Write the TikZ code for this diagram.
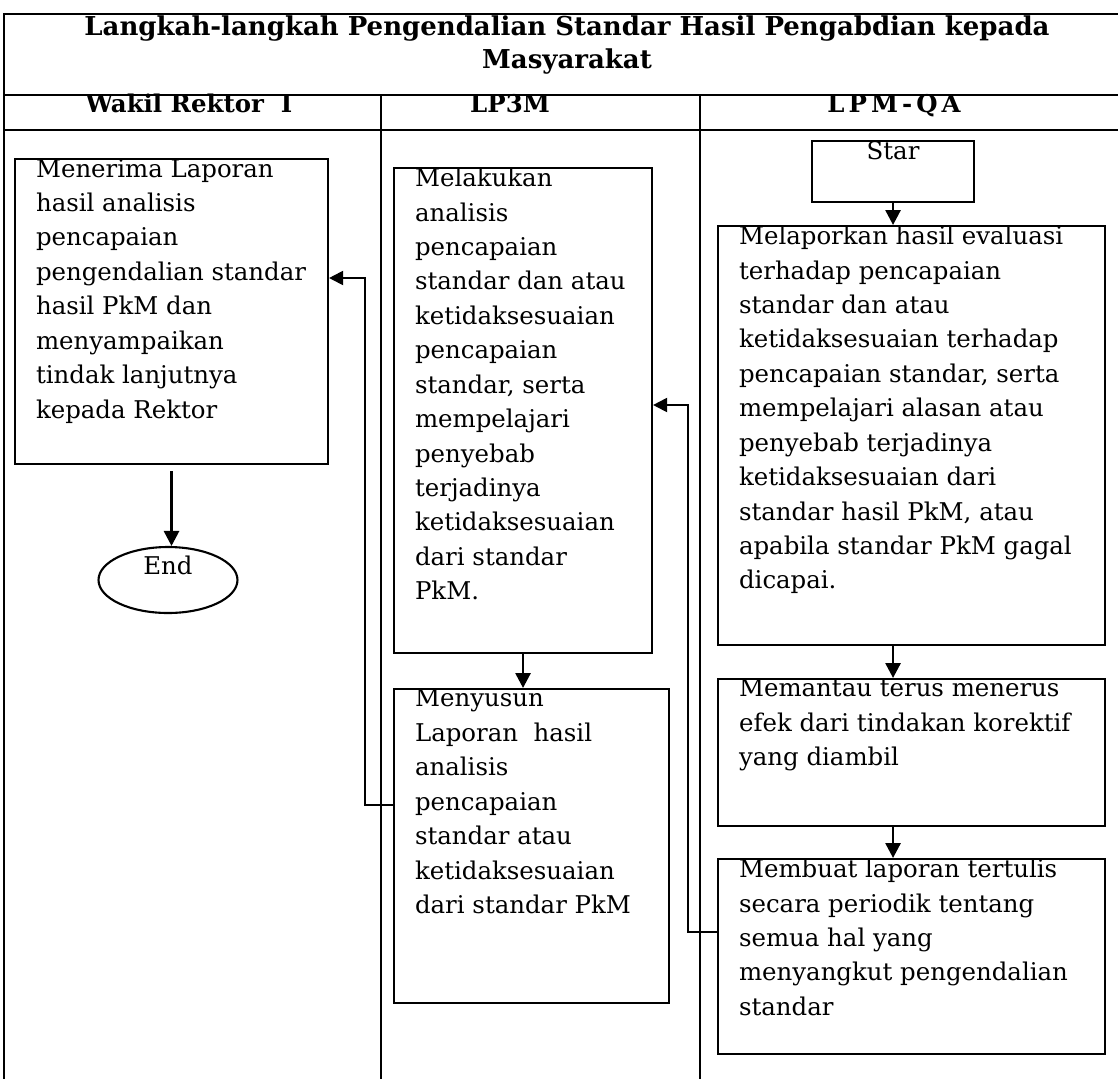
\documentclass[tikz,border=0pt]{standalone}
\usepackage{fontspec}
\setmainfont{DejaVu Serif}
\usetikzlibrary{arrows.meta,shapes.geometric,positioning}

\newcommand{\isikotak}[3]{\parbox[t][#2][t]{#1}{\raggedright #3}}

\begin{document}
\begin{tikzpicture}[x=0.02cm,y=-0.02cm,
  garis/.style={line width=0.9pt},
  kotak/.style={draw, line width=1.2pt, anchor=north west, inner xsep=0.42cm, inner ysep=0pt,
    font=\fontsize{13.9}{19.6}\selectfont},
  panah/.style={-{Triangle[length=0.3cm,width=0.3cm]}, line width=1.6pt},
  balik/.style={-{Triangle[length=0.28cm,width=0.28cm]}, line width=1.1pt},
  kepala/.style={font=\fontsize{14.8}{19.3}\selectfont\bfseries}]
\useasboundingbox (0,0) rectangle (1118,1079);
% frame of the table
\draw[garis] (1118,14) -- (4,14) -- (4,1079);
\draw[garis] (4,95) -- (1118,95);
\draw[garis] (4,130) -- (1118,130);
\draw[garis] (381,95) -- (381,1079);
\draw[garis] (700,95) -- (700,1079);
% title and column heads
\node[kepala, align=center] (judul) at (567,45) {Langkah-langkah Pengendalian Standar Hasil Pengabdian kepada\\Masyarakat};
\node[kepala, anchor=base, font=\fontsize{13.9}{19.3}\selectfont\bfseries] (wr) at (189,112) {Wakil Rektor~ I};
\node[kepala, anchor=base, font=\fontsize{13.9}{19.3}\selectfont\bfseries] (lp) at (510,112) {LP3M};
\node[kepala, anchor=base, font=\fontsize{13.9}{19.3}\selectfont\bfseries] (qa) at (894,112) {L\,P\,M\,-\,Q\,A};
% Wakil Rektor I
\node[kotak] (terima) at (14,158) {\isikotak{5.42cm}{6.1cm}{Menerima Laporan\\hasil analisis\\pencapaian\\pengendalian standar\\hasil PkM dan\\menyampaikan\\tindak lanjutnya\\kepada Rektor}};
\node[ellipse, draw, line width=1.2pt, minimum width=2.78cm, minimum height=1.32cm,
  label={[font=\fontsize{13.9}{19.6}\selectfont, yshift=0.3cm]center:End}] (selesai) at (168,580) {};
% LP3M
\node[kotak] (analisis) at (393,167) {\isikotak{4.32cm}{9.7cm}{Melakukan\\analisis\\pencapaian\\standar dan atau\\ketidaksesuaian\\pencapaian\\standar, serta\\mempelajari\\penyebab\\terjadinya\\ketidaksesuaian\\dari standar\\PkM.}};
\node[kotak] (susun) at (393,688) {\isikotak{4.66cm}{6.28cm}{Menyusun\\Laporan~ hasil\\analisis\\pencapaian\\standar atau\\ketidaksesuaian\\dari standar PkM}};
% LPM-QA
\node[kotak, inner xsep=0pt] (star) at (811,140) {\isikotak{3.24cm}{1.22cm}{\centering Star}};
\node[kotak] (lapor) at (717,225) {\isikotak{6.9cm}{8.38cm}{Melaporkan hasil evaluasi\\terhadap pencapaian\\standar dan atau\\ketidaksesuaian terhadap\\pencapaian standar, serta\\mempelajari alasan atau\\penyebab terjadinya\\ketidaksesuaian dari\\standar hasil PkM, atau\\apabila standar PkM gagal\\dicapai.}};
\node[kotak] (pantau) at (717,678) {\isikotak{6.9cm}{2.94cm}{Memantau terus menerus\\efek dari tindakan korektif\\yang diambil}};
\node[kotak] (buat) at (717,858) {\isikotak{6.9cm}{3.9cm}{Membuat laporan tertulis\\secara periodik tentang\\semua hal yang\\menyangkut pengendalian\\standar}};
% arrows
\draw[panah, shorten <=0.12cm] (terima.south) -- (terima.south |- selesai.north);
\draw[panah] (analisis.south) -- (analisis.south |- susun.north);
\draw[panah] (star.south) -- (star.south |- lapor.north);
\draw[panah] (lapor.south -| star.south) -- (pantau.north -| star.south);
\draw[panah] (pantau.south -| star.south) -- (buat.north -| star.south);
\draw[balik] (susun.west |- 0,805) -| (365,278) -- (terima.east |- 0,278);
\draw[balik] (buat.west |- 0,932) -| (688,405) -- (analisis.east |- 0,405);
\end{tikzpicture}
\end{document}
